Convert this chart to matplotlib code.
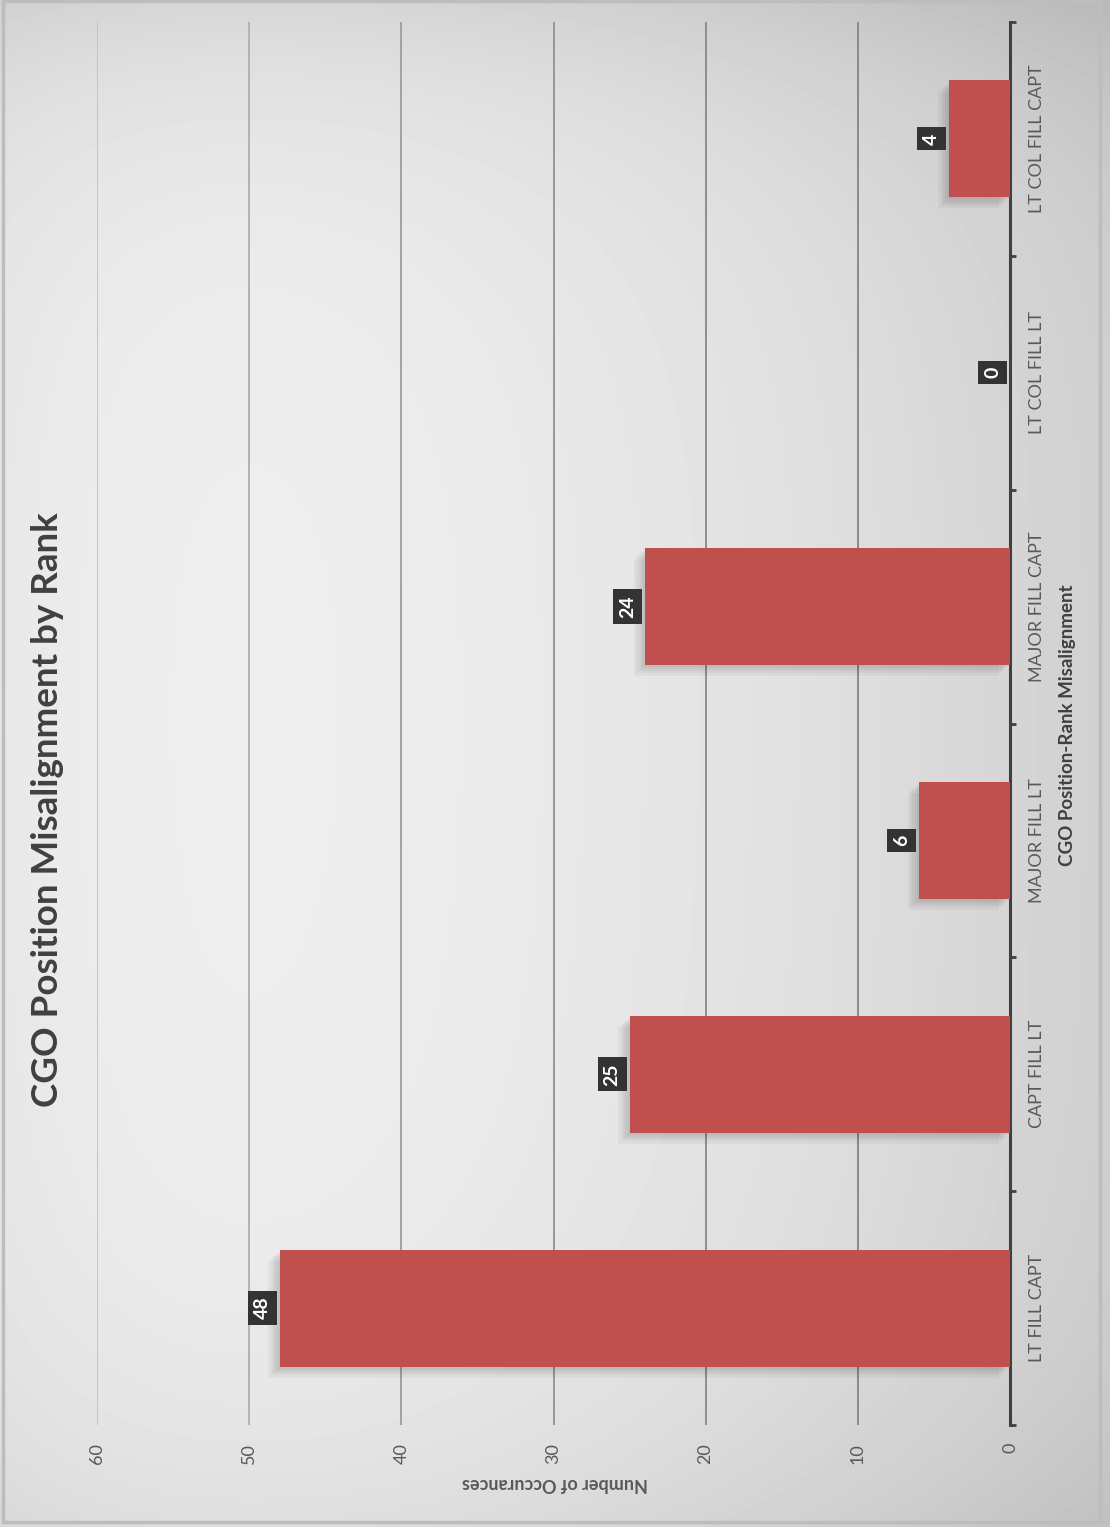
import numpy as np
import matplotlib
matplotlib.use("Agg")
import matplotlib.pyplot as plt
import matplotlib.patheffects as pe
from matplotlib.patches import Rectangle

plt.rcParams['font.family'] = ['Lato', 'DejaVu Sans']

categories = ['LT FILL CAPT', 'CAPT FILL LT', 'MAJOR FILL LT',
              'MAJOR FILL CAPT', 'LT COL FILL LT', 'LT COL FILL CAPT']
occurrences = [48, 25, 6, 24, 0, 4]
value_ticks = [0, 10, 20, 30, 40, 50, 60]
grid_shades = ['#8a8a8a', '#8e8e8e', '#979797', '#a2a2a2', '#b2b2b2', '#c4c4c4']

W, H = 1110, 1527
fig = plt.figure(figsize=(W / 100, H / 100), dpi=100)
fig.patch.set_facecolor('#f4f4f4')

# soft grey backdrop, lightest a little left of centre, darker to the edges
bg = fig.add_axes([0, 0, 1, 1], zorder=0)
yy, xx = np.mgrid[0:H, 0:W]
shade = (242 - 34 * (xx / W) ** 2
         - 10 * np.exp(-xx / 180.0)
         - 24 * np.exp(-yy / 130.0)
         - 16 * np.exp(-(H - yy) / 170.0)) / 255.0
bg.imshow(shade, cmap='gray', vmin=0, vmax=1, extent=(0, W, H, 0),
          aspect='auto', interpolation='bilinear')
bg.add_patch(Rectangle((3, 1), 1097, 1521, fill=False, ec='#bdbdbd', lw=2.5))
bg.set_xlim(0, W)
bg.set_ylim(H, 0)
bg.axis('off')

ax = fig.add_axes([97 / W, 102 / H, 913 / W, 1403 / H], zorder=1)
ax.set_facecolor('none')

pos = np.arange(len(categories))
bars = ax.barh(pos, occurrences, height=0.5, color='#c0504d', zorder=3)
# stacked faint shadows give a soft drop shadow
shadow = [pe.SimplePatchShadow(offset=(-k, -k), shadow_rgbFace='k', alpha=0.035)
          for k in (8, 6, 4.5, 3, 1.5)]
for b in bars:
    b.set_path_effects(shadow + [pe.Normal()])

for i, v in enumerate(occurrences):
    ax.annotate(str(v), xy=(v, i), xytext=(-12.5, 0), textcoords='offset points',
                rotation=90, ha='center', va='center', color='white',
                fontsize=14, fontweight='bold', zorder=5,
                bbox=dict(boxstyle='square,pad=0.3', fc='#333333', ec='none'))

ax.set_xlim(60, 0)
ax.set_ylim(-0.5, len(categories) - 0.5)

ax.set_xticks(value_ticks)
ax.set_xticklabels([str(t) for t in value_ticks], rotation=90,
                   color='#595959', fontsize=13)
ax.tick_params(axis='x', length=0, pad=13)

ax.grid(axis='x', lw=1.4, zorder=1)
for line, t in zip(ax.get_xgridlines(), value_ticks):
    if t == 0:
        line.set_visible(False)
    else:
        line.set_color(grid_shades[t // 10 - 1])

ax.yaxis.tick_right()
ax.set_yticks(pos)
ax.set_yticklabels(categories, rotation=90, va='center', ha='left',
                   color='#595959', fontsize=13)
ax.tick_params(axis='y', which='major', length=0, pad=14)
ax.set_yticks(np.arange(-0.5, len(categories)), minor=True)
ax.tick_params(axis='y', which='minor', length=4, width=2, color='#404040',
               right=True, left=False)

for s in ['left', 'top', 'bottom']:
    ax.spines[s].set_visible(False)
ax.spines['right'].set_color('#404040')
ax.spines['right'].set_linewidth(2.2)

fig.text(48 / W, 1 - 810 / H, 'CGO Position Misalignment by Rank',
         rotation=90, ha='center', va='center', fontsize=26.5,
         fontweight='bold', color='#404040')
fig.text(1068 / W, 1 - 725 / H, 'CGO Position-Rank Misalignment',
         rotation=90, ha='center', va='center', fontsize=13.5,
         fontweight='bold', color='#404040')
fig.text(555 / W, 1 - 1483 / H, 'Number of Occurances',
         rotation=180, ha='center', va='center', fontsize=13,
         fontweight='bold', color='#595959')

fig.savefig('out.png', dpi=100)
